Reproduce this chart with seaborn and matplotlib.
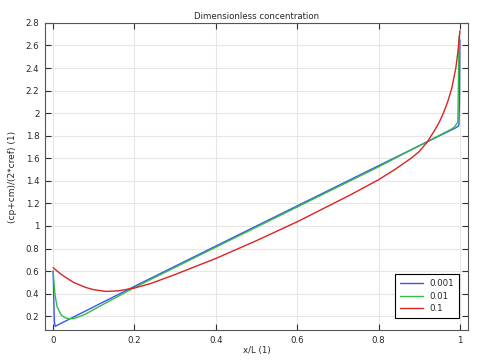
import matplotlib
matplotlib.use("Agg")
import matplotlib.pyplot as plt
import numpy as np
import pandas as pd
import seaborn as sns

x_001 = [0, 0.001, 0.002, 0.003, 0.005, 0.01, 0.2, 0.4, 0.6, 0.8, 0.99, 0.9975, 0.999, 1.0]
y_001 = [0.6, 0.45, 0.28, 0.15, 0.11, 0.12, 0.465, 0.822, 1.178, 1.534, 1.87, 1.89, 2.1, 2.65]

x_01 = [0, 0.003, 0.005, 0.01, 0.02, 0.03, 0.04, 0.05, 0.06, 0.08, 0.1, 0.2, 0.4, 0.6, 0.8,
        0.98, 0.987, 0.995, 0.998]
y_01 = [0.6, 0.45, 0.38, 0.28, 0.21, 0.185, 0.178, 0.18, 0.19, 0.22, 0.26, 0.455, 0.812, 1.168, 1.524,
        1.86, 1.88, 1.92, 2.68]

x_1 = [0, 0.02, 0.05, 0.08, 0.1, 0.13, 0.16, 0.2, 0.24, 0.3, 0.4, 0.5, 0.6, 0.73, 0.8, 0.84,
       0.88, 0.9, 0.92, 0.94, 0.95, 0.96, 0.97, 0.98, 0.99, 0.995, 1.0]
y_1 = [0.63, 0.57, 0.5, 0.455, 0.435, 0.42, 0.425, 0.45, 0.49, 0.57, 0.712, 0.87, 1.037, 1.274, 1.41, 1.50,
       1.60, 1.66, 1.745, 1.86, 1.925, 2.005, 2.10, 2.22, 2.40, 2.54, 2.73]

labels = ["0.001", "0.01", "0.1"]
colors = ["#3a55f0", "#33bb44", "#dd2222"]

df = pd.concat([
    pd.DataFrame({"x": x_001, "y": y_001, "case": "0.001"}),
    pd.DataFrame({"x": x_01, "y": y_01, "case": "0.01"}),
    pd.DataFrame({"x": x_1, "y": y_1, "case": "0.1"}),
])

sns.set_style("whitegrid", {"grid.color": "#e6e6e6", "axes.edgecolor": "#555555"})
plt.rcParams["font.family"] = ["DejaVu Sans"]

fig, ax = plt.subplots(figsize=(4.84, 3.63), dpi=100)
sns.lineplot(data=df, x="x", y="y", hue="case", hue_order=labels,
             palette=dict(zip(labels, colors)), linewidth=1.0, sort=False,
             estimator=None, ax=ax)

ax.set_xlim(-0.02, 1.02)
ax.set_ylim(0.075, 2.8)
ax.set_xticks(np.arange(0, 1.01, 0.2))
ax.set_xticklabels(["0", "0.2", "0.4", "0.6", "0.8", "1"])
ax.set_yticks(np.arange(0.2, 2.81, 0.2))
ax.set_yticklabels([f"{v:g}" for v in np.round(np.arange(0.2, 2.81, 0.2), 1)])
ax.tick_params(direction="in", length=4, width=0.8, labelsize=6.2, pad=4,
               top=True, right=True, bottom=True, left=True, color="#333333")
ax.set_xlabel("x/L (1)", fontsize=6.2, labelpad=1)
ax.set_ylabel("(cp+cm)/(2*cref) (1)", fontsize=6.5, labelpad=6)
ax.set_title("Dimensionless concentration", fontsize=6.2, pad=3)

leg = ax.legend(loc="lower right", fontsize=6.2, frameon=True, fancybox=False,
                edgecolor="black", framealpha=1, handlelength=2.6, borderpad=0.6,
                labelspacing=0.4, bbox_to_anchor=(0.99, 0.025))
leg.get_frame().set_linewidth(0.8)
leg.set_title(None)

fig.subplots_adjust(left=0.093, right=0.967, top=0.937, bottom=0.09)
fig.savefig("out.png", dpi=100)
